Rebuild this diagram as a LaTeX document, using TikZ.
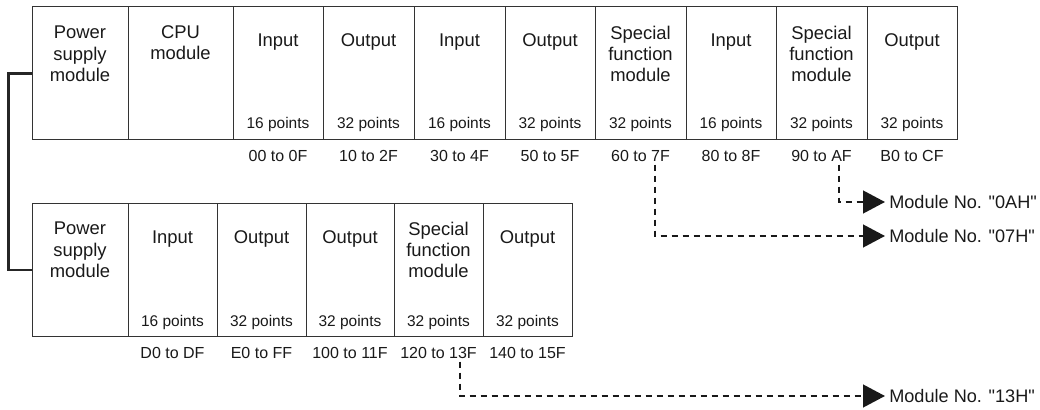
\documentclass[tikz,border=0pt]{standalone}
\usepackage{fontspec}
\setmainfont{Liberation Sans}[Ligatures=TeXOff]
\usetikzlibrary{arrows.meta,positioning}

\tikzset{
  modbox/.style={draw=black!80, line width=0.75pt, inner sep=0pt, minimum height=99.75pt},
  modtext/.style={align=center, text=black!90, font=\fontsize{13.8}{16}\selectfont, inner sep=1pt},
  ptstext/.style={text=black!90, font=\fontsize{11.6}{14}\selectfont, inner sep=1pt},
  addrtext/.style={text=black!90, font=\fontsize{12}{14}\selectfont, inner sep=2pt},
  numtext/.style={text=black!90, font=\fontsize{13.6}{16}\selectfont, inner sep=2pt, inner xsep=3pt, anchor=west},
  link/.style={line width=1.6pt, draw=black!85},
  numlink/.style={line width=1.8pt, draw=black!90, dash pattern=on 4.5pt off 3.75pt,
    -{Triangle[length=16.5pt,width=17pt]}},
}

\begin{document}
\begin{tikzpicture}[x=0.75pt,y=-0.75pt]
\useasboundingbox (0,0) rectangle (1040,410);

% Grundeinheit (obere Reihe)
\foreach \id/\l/\r/\dy/\nm/\pts/\adr in {
    t1/32/128/47/{Power\\supply\\module}/{}/{},
    t2/128/233/36/{CPU\\module}/{}/{},
    t3/233/323/35/{Input}/{16 points}/{00 to 0F},
    t4/323/414/35/{Output}/{32 points}/{10 to 2F},
    t5/414/505/35/{Input}/{16 points}/{30 to 4F},
    t6/505/595/35/{Output}/{32 points}/{50 to 5F},
    t7/595/686/47/{Special\\function\\module}/{32 points}/{60 to 7F},
    t8/686/776/35/{Input}/{16 points}/{80 to 8F},
    t9/776/867/47/{Special\\function\\module}/{32 points}/{90 to AF},
    t10/867/957/35/{Output}/{32 points}/{B0 to CF}}{
  \node[modbox, minimum width={(\r-\l)*0.75pt}] (\id) at ({(\l+\r)/2},73.5) {};
  \node[modtext] (\id-name) at ({(\l+\r)/2},7+\dy) {\nm};
  \node[ptstext] (\id-pts) at ({(\l+\r)/2},125) {\pts};
  \node[addrtext] (\id-adr) at ({(\l+\r)/2},156) {\adr};
}

% Erweiterungseinheit (untere Reihe)
\foreach \id/\l/\r/\dy/\nm/\pts/\adr in {
    b1/32/128/47/{Power\\supply\\module}/{}/{},
    b2/128/217/36/{Input}/{16 points}/{D0 to DF},
    b3/217/306/36/{Output}/{32 points}/{E0 to FF},
    b4/306/394/36/{Output}/{32 points}/{100 to 11F},
    b5/394/483/47/{Special\\function\\module}/{32 points}/{120 to 13F},
    b6/483/572/36/{Output}/{32 points}/{140 to 15F}}{
  \node[modbox, minimum width={(\r-\l)*0.75pt}] (\id) at ({(\l+\r)/2},270) {};
  \node[modtext] (\id-name) at ({(\l+\r)/2},203+\dy) {\nm};
  \node[ptstext] (\id-pts) at ({(\l+\r)/2},322) {\pts};
  \node[addrtext] (\id-adr) at ({(\l+\r)/2},353) {\adr};
}

% Modulnummern
\node[numtext] (m0A) at (885,202) {Module No. "0AH"};
\node[numtext] (m07) at (885,236) {Module No. "07H"};
\node[numtext] (m13) at (885,396) {Module No. "13H"};

% Verbindungen
\draw[link] (t1.west) -- ++(-23,0) |- (b1.west);
\draw[numlink] ([xshift=13.1pt]t9-adr.south) |- (m0A.west);
\draw[numlink] ([xshift=10.9pt]t7-adr.south) |- (m07.west);
\draw[numlink] ([xshift=16.1pt]b5-adr.south) |- (m13.west);
\end{tikzpicture}
\end{document}
